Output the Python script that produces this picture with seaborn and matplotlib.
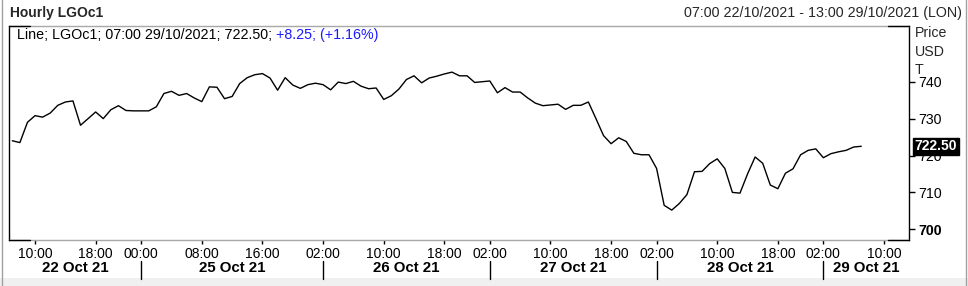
import matplotlib
matplotlib.use("Agg")
import matplotlib.pyplot as plt
from matplotlib.patches import Rectangle
from matplotlib.lines import Line2D
import numpy as np
import pandas as pd
import seaborn as sns

sns.set_style("white")
plt.rcParams["font.family"] = ["Liberation Sans", "DejaVu Sans"]

# ---------------- data ----------------
sessions = [("2021-10-22", 7, 22), ("2021-10-24", 23, 23), ("2021-10-25", 0, 22),
            ("2021-10-26", 1, 22), ("2021-10-27", 1, 22), ("2021-10-28", 1, 22),
            ("2021-10-29", 1, 13)]

prices = [
    724.0, 723.5, 729.0, 730.8, 730.4, 731.5, 733.6, 734.5, 734.8, 728.2,
    730.0, 731.8, 730.0, 732.4, 733.5, 732.2, 732.1, 732.1, 732.1, 733.2,
    736.8, 737.4, 736.3, 736.8, 735.6, 734.6, 738.6, 738.5, 735.4, 736.0,
    739.5, 741.1, 741.9, 742.2, 741.0, 737.7, 741.1, 739.1, 738.2, 739.2,
    739.6, 739.2, 737.8, 739.9, 739.5, 740.1, 738.8, 738.1, 738.3, 735.2,
    736.2, 738.0, 740.6, 741.6, 739.7, 741.0, 741.5, 742.1, 742.6, 741.6,
    741.6, 739.8, 740.0, 740.2, 737.0, 738.4, 737.2, 737.2, 735.6, 734.2,
    733.5, 733.7, 733.9, 732.5, 733.6, 733.6, 734.5, 730.0, 725.4, 723.2,
    724.8, 723.8, 720.6, 720.2, 720.2, 716.5, 706.5, 705.2, 707.0, 709.4,
    715.6, 715.7, 717.8, 719.1, 716.5, 710.0, 709.8, 715.0, 719.6, 717.9,
    712.0, 711.0, 715.2, 716.4, 720.2, 721.4, 721.8, 719.4, 720.5, 721.0,
    721.4, 722.3, 722.5]

tick_times = ["2021-10-22 10:00", "2021-10-22 18:00",
              "2021-10-25 00:00", "2021-10-25 08:00", "2021-10-25 16:00",
              "2021-10-26 02:00", "2021-10-26 10:00", "2021-10-26 18:00",
              "2021-10-27 02:00", "2021-10-27 10:00", "2021-10-27 18:00",
              "2021-10-28 02:00", "2021-10-28 10:00", "2021-10-28 18:00",
              "2021-10-29 02:00", "2021-10-29 10:00"]
day_names = ["22 Oct 21", "25 Oct 21", "26 Oct 21", "27 Oct 21", "28 Oct 21", "29 Oct 21"]
y_ticks = [700, 710, 720, 730, 740]
last_price = 722.50
title = "Hourly LGOc1"
range_text = "07:00 22/10/2021 - 13:00 29/10/2021 (LON)"
legend_main = "Line; LGOc1; 07:00 29/10/2021; 722.50; "
legend_change = "+8.25; (+1.16%)"

# ---------------- calendar (trading hours only) ----------------
times = [pd.Timestamp(d) + pd.Timedelta(hours=h) for d, a, b in sessions for h in range(a, b + 1)]
pos = {t: i for i, t in enumerate(times)}
df = pd.DataFrame({"time": times[:len(prices)], "price": prices})
df["x"] = [pos[t] for t in df["time"]]

# ---------------- figure ----------------
W, H = 968, 286
fig = plt.figure(figsize=(W / 100, H / 100), dpi=100)
fig.patch.set_facecolor("white")

L, R, T, B = 9, 909, 26, 240
ax = fig.add_axes([L / W, 1 - B / H, (R - L) / W, (B - T) / H])
sns.lineplot(data=df, x="x", y="price", ax=ax, color="black", linewidth=1.0)

ax.set_xlim(-0.435, len(times) - 1 + 0.3)
ax.set_ylim(697.1, 755.1)
ax.set_xlabel("")
ax.set_ylabel("")

# spines: gray with black corner segments
for s in ["top", "bottom"]:
    ax.spines[s].set_color("#a8a8a8")
    ax.spines[s].set_linewidth(1.0)
for s in ["left", "right"]:
    ax.spines[s].set_color("black")
    ax.spines[s].set_linewidth(1.0)
seg = 21 / (R - L)
for (x0, x1, yy) in [(0, seg, 1), (1 - seg, 1, 1), (0, seg, 0), (1 - seg, 1, 0)]:
    ax.add_line(Line2D([x0, x1], [yy, yy], transform=ax.transAxes, color="black",
                       lw=1.0, clip_on=False, zorder=5))

# y axis on the right
ax.yaxis.tick_right()
ax.set_yticks(y_ticks)
ax.set_yticklabels([str(v) for v in y_ticks])
ax.tick_params(axis="y", which="both", right=True, left=False, length=4, width=1,
               color="black", direction="out", pad=3, labelsize=10.2, labelcolor="black")
for lbl in ax.get_yticklabels():
    if lbl.get_text() == "700":
        lbl.set_fontweight("bold")

# x axis
tick_pos = [pos[pd.Timestamp(t)] for t in tick_times]
ax.set_xticks(tick_pos)
ax.set_xticklabels([pd.Timestamp(t).strftime("%H:%M") for t in tick_times])
ax.tick_params(axis="x", which="both", bottom=True, length=3, width=1, color="black",
               direction="out", pad=2, labelsize=10, labelcolor="black")

# day separators and labels
tick_days = [pd.Timestamp(t).normalize() for t in tick_times]
first_idx = []
for i, d in enumerate(tick_days):
    if i == 0 or d != tick_days[i - 1]:
        first_idx.append(i)
seps = [tick_pos[i] for i in first_idx[1:]]
xt = ax.get_xaxis_transform()
for s in seps:
    ax.add_line(Line2D([s, s], [-(261 - B) / (B - T), -(279 - B) / (B - T)], transform=xt,
                       color="black", lw=1.0, clip_on=False))
xl = ax.get_xlim()
bounds = [xl[0]] + seps + [xl[1]]
for k, name in enumerate(day_names):
    cx = (bounds[k] + bounds[k + 1]) / 2
    ax.text(cx, -(268.5 - B) / (B - T), name, transform=xt, ha="center", va="center",
            fontsize=10.8, fontweight="bold", color="black")

# last price marker
ax.annotate(f"{last_price:.2f}", xy=(1.0, last_price), xycoords=("axes fraction", "data"),
            xytext=(4, 0), textcoords="offset points", ha="left", va="center",
            fontsize=10, fontweight="bold", color="white", annotation_clip=False, zorder=10,
            bbox=dict(boxstyle="square,pad=0.12", fc="black", ec="black"))

# header texts
fig.text(10 / W, 1 - 13 / H, title, ha="left", va="center", fontsize=10, fontweight="bold")
fig.text(962 / W, 1 - 13 / H, range_text, ha="right", va="center", fontsize=10.3)
for txt, yy in [("Price", 33.5), ("USD", 51.5), ("T", 69.5)]:
    fig.text(915 / W, 1 - yy / H, txt, ha="left", va="center", fontsize=10.2)

t1 = fig.text(17 / W, 1 - 35 / H, legend_main, ha="left", va="center", fontsize=10.3, color="black")
fig.canvas.draw()
bb = t1.get_window_extent()
fig.text(bb.x1 / W, 1 - 35 / H, legend_change, ha="left", va="center", fontsize=10.3, color="#1a1aff")

# frame / bottom band
fig.patches.append(Rectangle((0, 0), 1, 8 / H, transform=fig.transFigure, fc="#f0f0f0", ec="none", zorder=-1))
fig.add_artist(Line2D([2 / W, 2 / W], [0, 1], transform=fig.transFigure, color="#a0a0a0", lw=1))
fig.add_artist(Line2D([965.5 / W, 965.5 / W], [0, 1], transform=fig.transFigure, color="#a0a0a0", lw=1))

fig.savefig("out.png", dpi=100, facecolor="white")
